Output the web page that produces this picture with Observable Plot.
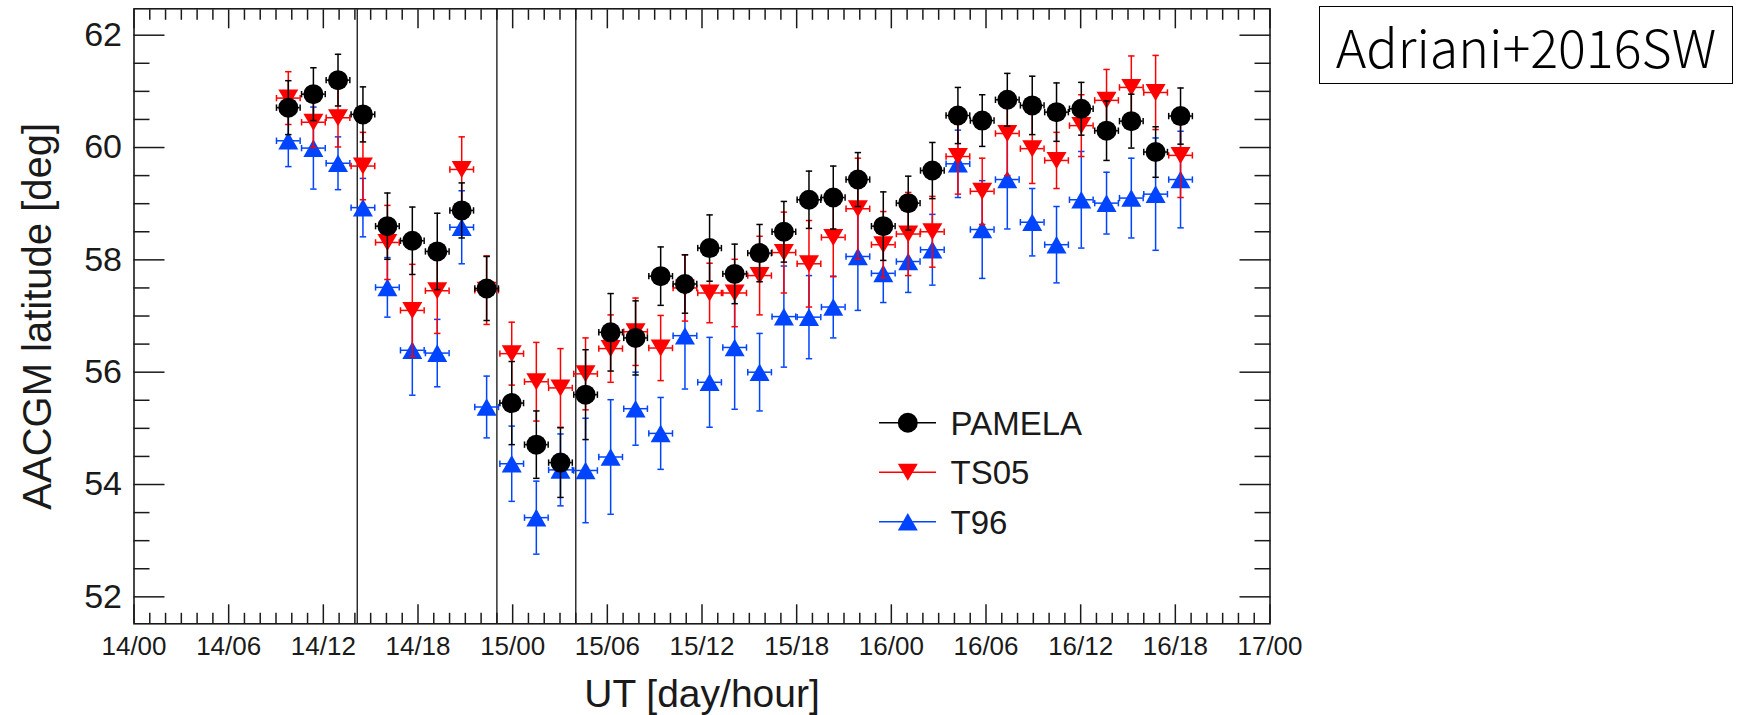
<!DOCTYPE html>
<html>
<head>
<meta charset="utf-8">
<script src="https://cdn.jsdelivr.net/npm/d3@7"></script>
<script src="https://cdn.jsdelivr.net/npm/@observablehq/plot@0.6"></script>
<style>
  html, body { margin: 0; padding: 0; background: #fff; }
  #wrap { position: relative; width: 1746px; height: 715px; overflow: hidden; background: #fff; }
  #box {
    position: absolute; left: 1319px; top: 6px; width: 412px; height: 76px;
    border: 1.6px solid #000; box-sizing: content-box;
    font-family: "Noto Sans CJK JP", "Noto Sans", sans-serif; font-weight: 300;
    font-size: 52px; color: #000;
    display: flex; align-items: center; justify-content: center;
  }
  #legend { position: absolute; left: 0; top: 0; pointer-events: none; }
</style>
</head>
<body>
<div id="wrap">
  <div id="chart"></div>
  <div id="box">Adriani+2016SW</div>
  <svg id="legend" width="1746" height="715"></svg>
</div>
<script>
// ---------------- data (hours since 14/00 UT) ----------------
const hours = [9.78, 11.37, 12.93, 14.51, 16.06, 17.64, 19.22, 20.77, 22.35, 23.94,
  25.50, 27.03, 28.62, 30.21, 31.79, 33.38, 34.92, 36.48, 38.07, 39.65,
  41.19, 42.78, 44.32, 45.88, 47.49, 49.07, 50.60, 52.22, 53.76, 55.35,
  56.93, 58.47, 60.04, 61.64, 63.21, 64.75, 66.33];

const pamela = [60.71, 60.95, 61.20, 60.59, 58.60, 58.34, 58.15, 58.88, 57.49, 55.45,
  54.71, 54.39, 55.60, 56.71, 56.61, 57.71, 57.57, 58.21, 57.75, 58.12,
  58.50, 59.07, 59.11, 59.43, 58.60, 59.01, 59.59, 60.57, 60.48, 60.85,
  60.75, 60.63, 60.69, 60.30, 60.47, 59.92, 60.56];
const pamelaErr = [0.48, 0.47, 0.46, 0.49, 0.59, 0.60, 0.68, 0.49, 0.57, 0.74,
  0.60, 0.62, 0.80, 0.69, 0.66, 0.52, 0.52, 0.59, 0.53, 0.51,
  0.54, 0.51, 0.56, 0.48, 0.61, 0.48, 0.50, 0.50, 0.46, 0.47,
  0.52, 0.52, 0.47, 0.53, 0.48, 0.45, 0.50];

const ts05 = [60.88, 60.45, 60.53, 59.67, 58.31, 57.10, 57.45, 59.61, 57.46, 56.33,
  55.83, 55.72, 55.97, 56.42, 56.72, 56.43, 57.50, 57.41, 57.41, 57.72,
  58.13, 57.93, 58.40, 58.91, 58.27, 58.46, 58.50, 59.84, 59.22, 60.25,
  59.98, 59.77, 60.39, 60.84, 61.07, 60.98, 59.86];
const ts05Err = [0.47, 0.45, 0.52, 0.60, 0.66, 0.82, 0.76, 0.58, 0.61, 0.56,
  0.70, 0.70, 0.64, 0.60, 0.60, 0.58, 0.59, 0.53, 0.60, 0.70,
  0.72, 0.77, 0.70, 0.90, 0.59, 0.74, 0.63, 0.67, 0.59, 0.75,
  0.62, 0.50, 0.55, 0.55, 0.56, 0.66, 0.75];

const t96 = [60.12, 59.99, 59.72, 58.93, 57.51, 56.39, 56.34, 58.58, 55.38, 54.37,
  53.41, 54.26, 54.25, 54.49, 55.35, 54.91, 56.65, 55.82, 56.44, 56.00,
  56.99, 56.98, 57.16, 58.06, 57.76, 57.97, 58.18, 59.71, 58.54, 59.43,
  58.67, 58.27, 59.07, 59.01, 59.10, 59.17, 59.43];
const t96Err = [0.46, 0.73, 0.47, 0.52, 0.53, 0.80, 0.60, 0.65, 0.55, 0.67,
  0.65, 0.64, 0.93, 1.02, 0.65, 0.64, 0.95, 0.80, 1.10, 0.69,
  0.90, 0.74, 0.55, 0.96, 0.52, 0.55, 0.63, 0.60, 0.87, 0.88,
  0.60, 0.68, 0.86, 0.55, 0.71, 1.00, 0.86];

const halfBin = 0.75;                       // horizontal error (hours)
const markerLines = [14.15, 23.0, 28.0];    // vertical reference lines (hours)

const xTickHours = [0, 6, 12, 18, 24, 30, 36, 42, 48, 54, 60, 66, 72];
const xTickLabels = ["14/00", "14/06", "14/12", "14/18", "15/00", "15/06", "15/12",
  "15/18", "16/00", "16/06", "16/12", "16/18", "17/00"];
const yTicks = [52, 54, 56, 58, 60, 62];
const yTickLabels = ["52", "54", "56", "58", "60", "62"];

const seriesNames = ["PAMELA", "TS05", "T96"];
const seriesColors = ["#000000", "#ff0000", "#0044ff"];

// ---------------- symbols ----------------
const rad = size => Math.sqrt(size / Math.PI);
const triUp = { draw(ctx, size) { const r = rad(size), w = 1.0 * r, h = 0.88 * r;
  ctx.moveTo(0, -h); ctx.lineTo(w, h); ctx.lineTo(-w, h); ctx.closePath(); } };
const triDown = { draw(ctx, size) { const r = rad(size), w = 1.0 * r, h = 0.85 * r;
  ctx.moveTo(0, h); ctx.lineTo(w, -h); ctx.lineTo(-w, -h); ctx.closePath(); } };
const circ = { draw(ctx, size) { const r = rad(size); ctx.moveTo(r, 0); ctx.arc(0, 0, r, 0, 2 * Math.PI); } };
const hCap = { draw(ctx, size) { const r = rad(size); ctx.moveTo(-r, 0); ctx.lineTo(r, 0); } };
const vCap = { draw(ctx, size) { const r = rad(size); ctx.moveTo(0, -r); ctx.lineTo(0, r); } };

const seriesDefs = [
  { name: seriesNames[0], values: pamela, err: pamelaErr, color: seriesColors[0], symbol: circ },
  { name: seriesNames[1], values: ts05, err: ts05Err, color: seriesColors[1], symbol: triDown },
  { name: seriesNames[2], values: t96, err: t96Err, color: seriesColors[2], symbol: triUp }
];

function rowsOf(s) {
  return hours.map((h, i) => ({ hour: h, value: s.values[i], lo: s.values[i] - s.err[i], hi: s.values[i] + s.err[i] }));
}

function seriesMarks(s) {
  const rows = rowsOf(s);
  const sw = 1.5;
  return [
    Plot.ruleX(rows, { x: "hour", y1: "lo", y2: "hi", stroke: s.color, strokeWidth: sw }),
    Plot.ruleY(rows, { y: "value", x1: d => d.hour - halfBin, x2: d => d.hour + halfBin, stroke: s.color, strokeWidth: sw }),
    Plot.dot(rows, { x: "hour", y: "lo", symbol: hCap, r: 3.2, fill: "none", stroke: s.color, strokeWidth: sw }),
    Plot.dot(rows, { x: "hour", y: "hi", symbol: hCap, r: 3.2, fill: "none", stroke: s.color, strokeWidth: sw }),
    Plot.dot(rows, { x: d => d.hour - halfBin, y: "value", symbol: vCap, r: 3.2, fill: "none", stroke: s.color, strokeWidth: sw }),
    Plot.dot(rows, { x: d => d.hour + halfBin, y: "value", symbol: vCap, r: 3.2, fill: "none", stroke: s.color, strokeWidth: sw }),
    Plot.dot(rows, { x: "hour", y: "value", symbol: s.symbol, r: 10, fill: s.color, stroke: "none" })
  ];
}

const xMinor = d3.range(0, 73, 1).filter(h => h % 6 !== 0);
const yDomain = [51.52, 62.47];
const yMinor = d3.range(51.5, 62.51, 0.5).filter(v => v >= yDomain[0] && v <= yDomain[1] && v % 2 !== 0);
const axisColor = "#1a1a1a";
const blank = () => "";

const chart = Plot.plot({
  width: 1746, height: 715,
  marginLeft: 133.5, marginRight: 476.5, marginTop: 8.3, marginBottom: 91.7,
  style: { fontFamily: "'Liberation Sans', Arial, Helvetica, sans-serif", color: axisColor, background: "#fff" },
  x: { domain: [0, 72] },
  y: { domain: yDomain },
  marks: [
    // vertical reference lines
    Plot.ruleX(markerLines, { stroke: "#222", strokeWidth: 1.4 }),
    // series: T96 first, then TS05, then PAMELA on top
    ...seriesMarks(seriesDefs[2]),
    ...seriesMarks(seriesDefs[1]),
    ...seriesMarks(seriesDefs[0]),
    // frame
    Plot.frame({ stroke: axisColor, strokeWidth: 1.6 }),
    // inward ticks (bottom / top)
    Plot.axisX(xTickHours, { anchor: "bottom", tickSize: -19, tickFormat: blank, label: null, strokeWidth: 1.5 }),
    Plot.axisX(xMinor, { anchor: "bottom", tickSize: -10.5, tickFormat: blank, label: null, strokeWidth: 1.5 }),
    Plot.axisX(xTickHours, { anchor: "top", tickSize: -19, tickFormat: blank, label: null, strokeWidth: 1.5 }),
    Plot.axisX(xMinor, { anchor: "top", tickSize: -10.5, tickFormat: blank, label: null, strokeWidth: 1.5 }),
    // inward ticks (left / right)
    Plot.axisY(yTicks, { anchor: "left", tickSize: -31, tickFormat: blank, label: null, strokeWidth: 1.5 }),
    Plot.axisY(yMinor, { anchor: "left", tickSize: -16, tickFormat: blank, label: null, strokeWidth: 1.5 }),
    Plot.axisY(yTicks, { anchor: "right", tickSize: -31, tickFormat: blank, label: null, strokeWidth: 1.5 }),
    Plot.axisY(yMinor, { anchor: "right", tickSize: -16, tickFormat: blank, label: null, strokeWidth: 1.5 }),
    // tick labels
    Plot.axisX(xTickHours, { anchor: "bottom", tickSize: 0, tickPadding: 13, fontSize: 26,
      tickFormat: d => xTickLabels[xTickHours.indexOf(d)], label: null }),
    Plot.axisY(yTicks, { anchor: "left", tickSize: 0, tickPadding: 12, fontSize: 34,
      tickFormat: d => yTickLabels[yTicks.indexOf(d)], label: null }),
    // axis titles
    Plot.text(["AACGM latitude [deg]"], { text: d => d, frameAnchor: "left", dx: -83.5, rotate: -90,
      textAnchor: "middle", lineAnchor: "bottom", fontSize: 40, fill: axisColor }),
    Plot.text(["UT [day/hour]"], { text: d => d, frameAnchor: "bottom", dy: 83.4,
      textAnchor: "middle", lineAnchor: "bottom", fontSize: 39, fill: axisColor })
  ]
});
document.getElementById("chart").appendChild(chart);

// ---------------- legend ----------------
const leg = d3.select("#legend");
const legX0 = 879, legX1 = 936, legMx = 907.8, legTx = 950.6;
const legRows = [422.7, 472.3, 521.7];
seriesDefs.forEach((s, i) => {
  const y = legRows[i];
  leg.append("line").attr("x1", legX0).attr("x2", legX1).attr("y1", y).attr("y2", y)
    .attr("stroke", s.color).attr("stroke-width", 1.6);
  leg.append("path").attr("d", d3.symbol(s.symbol, Math.PI * 100)())
    .attr("transform", `translate(${legMx},${y})`).attr("fill", s.color);
  leg.append("text").attr("x", legTx).attr("y", y).attr("dy", "0.36em")
    .attr("font-family", "'Liberation Sans', Arial, Helvetica, sans-serif")
    .attr("font-size", 33).attr("fill", axisColor).text(s.name);
});
</script>
</body>
</html>
